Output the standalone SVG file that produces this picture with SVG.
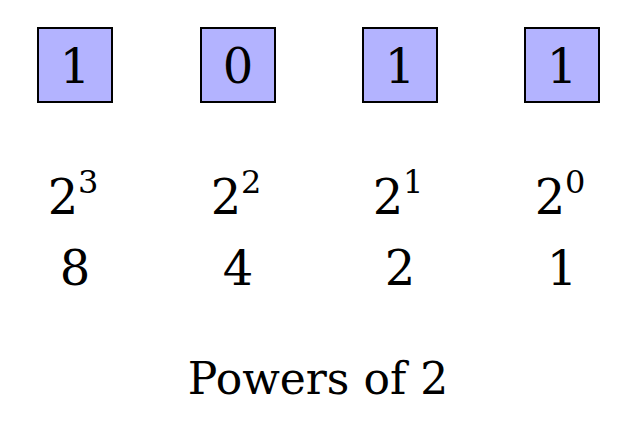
<svg xmlns="http://www.w3.org/2000/svg" width="635" height="425" viewBox="0 0 635 425" font-family="DejaVu Serif, Liberation Serif, serif">
<style>
.b{fill:#b3b3ff;stroke:#000;stroke-width:2}
.d{font-size:48px;text-anchor:middle}
.s{font-size:32px}
.t{font-size:44px;text-anchor:middle}
</style>
<rect width="635" height="425" fill="#fff"/>
<g id="bit3"><rect class="b" x="38" y="28" width="74" height="74"/><text class="d" x="75" y="83">1</text></g>
<g id="bit2"><rect class="b" x="201" y="28" width="74" height="74"/><text class="d" x="238" y="83">0</text></g>
<g id="bit1"><rect class="b" x="363" y="28" width="74" height="74"/><text class="d" x="400" y="83">1</text></g>
<g id="bit0"><rect class="b" x="525" y="28" width="74" height="74"/><text class="d" x="562" y="83">1</text></g>
<g id="connectors"/>
<g id="pow3"><text class="d" x="63" y="214">2</text><text class="s" x="78" y="193">3</text><text class="d" x="75" y="285">8</text></g>
<g id="pow2"><text class="d" x="226" y="214">2</text><text class="s" x="241" y="193">2</text><text class="d" x="238" y="285">4</text></g>
<g id="pow1"><text class="d" x="388" y="214">2</text><text class="s" x="403" y="193">1</text><text class="d" x="400" y="285">2</text></g>
<g id="pow0"><text class="d" x="550" y="214">2</text><text class="s" x="565" y="193">0</text><text class="d" x="562" y="285">1</text></g>
<text class="t" x="318" y="394">Powers of 2</text>
</svg>
